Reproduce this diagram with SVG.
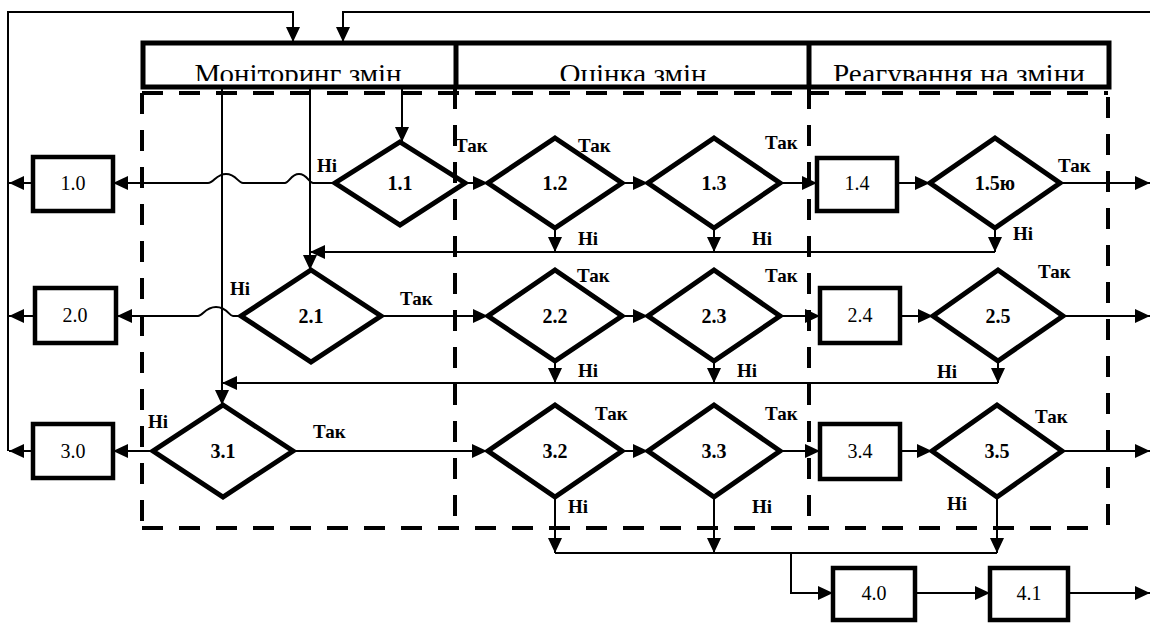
<svg xmlns="http://www.w3.org/2000/svg" width="1150" height="623" viewBox="0 0 1150 623">
<style>
.box{fill:#fff;stroke:#000;stroke-width:4.5}
.dia{fill:#fff;stroke:#000;stroke-width:5;stroke-linejoin:miter}
.ln{fill:none;stroke:#000;stroke-width:2}
.ar{marker-end:url(#ah)}
.dash{fill:none;stroke:#000;stroke-width:4;stroke-dasharray:21 16}
.hdr{fill:#fff;stroke:#000;stroke-width:5}
.ht{font-family:"Liberation Serif",serif;font-size:27px;fill:#000;text-anchor:middle}
.bl{font-family:"Liberation Serif",serif;font-size:20px;fill:#000;text-anchor:middle}
.dl{font-family:"Liberation Serif",serif;font-size:20px;font-weight:bold;fill:#000;text-anchor:middle}
.lb{font-family:"Liberation Serif",serif;font-size:19px;font-weight:bold;fill:#000}
</style>
<defs>
<marker id="ah" markerUnits="userSpaceOnUse" markerWidth="16" markerHeight="14" refX="15" refY="7" orient="auto">
<path d="M0,0 L15,7 L0,14 z" fill="#000"/>
</marker>
<clipPath id="hc"><rect x="140" y="44" width="975" height="37"/></clipPath>
</defs>
<rect width="1150" height="623" fill="#fff"/>

<g id="header">
<rect class="hdr" x="143" y="43" width="966" height="44"/>
<line x1="456" y1="43" x2="456" y2="87" stroke="#000" stroke-width="5"/>
<line x1="809" y1="43" x2="809" y2="87" stroke="#000" stroke-width="5"/>
<g clip-path="url(#hc)">
<text class="ht" x="298" y="83" textLength="207" lengthAdjust="spacingAndGlyphs">Моніторинг змін</text>
<text class="ht" x="633" y="83" textLength="147" lengthAdjust="spacingAndGlyphs">Оцінка змін</text>
<text class="ht" x="959" y="83" textLength="252" lengthAdjust="spacingAndGlyphs">Реагування на зміни</text>
</g>
</g>

<g id="connectors">
<path class="ln ar" d="M8,451 V12 H293 V42"/>
<path class="ln ar" d="M1150,12 H343 V42"/>
<path class="ln ar" d="M33,183 H9"/>
<path class="ln ar" d="M35,316 H9"/>
<path class="ln ar" d="M33,451 H9"/>
<!-- row 1 -->
<path class="ln ar" d="M335,183 H313 C309,183 307,174 299,174 C291,174 289,183 285,183 H243 C238,183 236,174 226,174 C216,174 214,183 208,183 H113"/>
<path class="ln ar" d="M465,183 H488"/>
<path class="ln ar" d="M622,183 H648"/>
<path class="ln ar" d="M780,183 H817"/>
<path class="ln ar" d="M897,183 H930"/>
<path class="ln ar" d="M1060,183 H1150"/>
<path class="ln ar" d="M555,228 V252"/>
<path class="ln ar" d="M714,228 V252"/>
<path class="ln ar" d="M995,228 V252"/>
<path class="ln ar" d="M995,252 H310"/>
<path class="ln ar" d="M402,88 V142"/>
<path class="ln ar" d="M310,88 V270"/>
<path class="ln ar" d="M222,88 V405"/>
<!-- row 2 -->
<path class="ln ar" d="M243,316 H233 C229,316 227,307 216,307 C205,307 203,316 198,316 H117"/>
<path class="ln ar" d="M383,316 H488"/>
<path class="ln ar" d="M622,316 H648"/>
<path class="ln ar" d="M780,316 H820"/>
<path class="ln ar" d="M900,316 H933"/>
<path class="ln ar" d="M1063,316 H1150"/>
<path class="ln ar" d="M555,361 V383"/>
<path class="ln ar" d="M714,361 V383"/>
<path class="ln ar" d="M998,361 V383"/>
<path class="ln ar" d="M998,383 H222"/>
<!-- row 3 -->
<path class="ln ar" d="M153,451 H113"/>
<path class="ln ar" d="M293,451 H487"/>
<path class="ln ar" d="M622,451 H648"/>
<path class="ln ar" d="M780,451 H820"/>
<path class="ln ar" d="M900,451 H932"/>
<path class="ln ar" d="M1062,451 H1150"/>
<path class="ln ar" d="M555,497 V553"/>
<path class="ln ar" d="M714,497 V553"/>
<path class="ln ar" d="M997,497 V553"/>
<path class="ln" d="M555,553 H997"/>
<path class="ln ar" d="M791,553 V593 H833"/>
<path class="ln ar" d="M915,593 H990"/>
<path class="ln ar" d="M1068,593 H1150"/>
</g>

<g id="n1.0"><rect class="box" x="33" y="157" width="80" height="54"/><text class="bl" x="73" y="190">1.0</text></g>
<g id="n2.0"><rect class="box" x="35" y="288" width="81" height="55"/><text class="bl" x="75" y="322">2.0</text></g>
<g id="n3.0"><rect class="box" x="33" y="424" width="80" height="54"/><text class="bl" x="73" y="458">3.0</text></g>
<g id="n1.4"><rect class="box" x="817" y="158" width="80" height="53"/><text class="bl" x="857" y="190">1.4</text></g>
<g id="n2.4"><rect class="box" x="820" y="288" width="80" height="55"/><text class="bl" x="860" y="322">2.4</text></g>
<g id="n3.4"><rect class="box" x="820" y="424" width="80" height="55"/><text class="bl" x="860" y="458">3.4</text></g>
<g id="n4.0"><rect class="box" x="833" y="568" width="82" height="52"/><text class="bl" x="874" y="600">4.0</text></g>
<g id="n4.1"><rect class="box" x="990" y="568" width="78" height="52"/><text class="bl" x="1029" y="600">4.1</text></g>

<g id="n1.1"><polygon class="dia" points="400,142 465,183 400,225 335,183"/><text class="dl" x="400" y="190">1.1</text></g>
<g id="n1.2"><polygon class="dia" points="555,138 622,183 555,228 488,183"/><text class="dl" x="555" y="190">1.2</text></g>
<g id="n1.3"><polygon class="dia" points="714,138 780,183 714,228 648,183"/><text class="dl" x="714" y="190">1.3</text></g>
<g id="n1.5"><polygon class="dia" points="995,138 1060,183 995,228 930,183"/><text class="dl" x="995" y="190">1.5ю</text></g>
<g id="n2.1"><polygon class="dia" points="311,270 381,316 311,362 241,316"/><text class="dl" x="311" y="323">2.1</text></g>
<g id="n2.2"><polygon class="dia" points="555,270 622,316 555,361 488,316"/><text class="dl" x="555" y="323">2.2</text></g>
<g id="n2.3"><polygon class="dia" points="714,270 780,316 714,361 648,316"/><text class="dl" x="714" y="323">2.3</text></g>
<g id="n2.5"><polygon class="dia" points="998,270 1063,316 998,361 933,316"/><text class="dl" x="998" y="323">2.5</text></g>
<g id="n3.1"><polygon class="dia" points="223,405 293,451 223,497 153,451"/><text class="dl" x="223" y="458">3.1</text></g>
<g id="n3.2"><polygon class="dia" points="555,405 622,451 555,497 488,451"/><text class="dl" x="555" y="458">3.2</text></g>
<g id="n3.3"><polygon class="dia" points="714,405 780,451 714,497 648,451"/><text class="dl" x="714" y="458">3.3</text></g>
<g id="n3.5"><polygon class="dia" points="997,405 1062,451 997,497 932,451"/><text class="dl" x="997" y="458">3.5</text></g>

<g id="labels">
<text class="lb" x="317" y="172">Ні</text>
<text class="lb" x="578" y="245">Ні</text>
<text class="lb" x="752" y="245">Ні</text>
<text class="lb" x="1013" y="240">Ні</text>
<text class="lb" x="230" y="295">Ні</text>
<text class="lb" x="578" y="377">Ні</text>
<text class="lb" x="737" y="377">Ні</text>
<text class="lb" x="937" y="378">Ні</text>
<text class="lb" x="148" y="428">Ні</text>
<text class="lb" x="568" y="513">Ні</text>
<text class="lb" x="752" y="513">Ні</text>
<text class="lb" x="947" y="510">Ні</text>
<text class="lb" x="455" y="152">Так</text>
<text class="lb" x="578" y="152">Так</text>
<text class="lb" x="765" y="149">Так</text>
<text class="lb" x="1058" y="172">Так</text>
<text class="lb" x="400" y="305">Так</text>
<text class="lb" x="577" y="282">Так</text>
<text class="lb" x="765" y="282">Так</text>
<text class="lb" x="1038" y="278">Так</text>
<text class="lb" x="313" y="438">Так</text>
<text class="lb" x="595" y="420">Так</text>
<text class="lb" x="765" y="420">Так</text>
<text class="lb" x="1035" y="423">Так</text>
</g>

<g id="lanes">
<path class="dash" d="M142,93 H1108"/>
<path class="dash" d="M142,93 V528"/>
<path class="dash" d="M1108,97 V528"/>
<path class="dash" d="M142,528 H1100"/>
<path class="dash" d="M455,88 V528"/>
<path class="dash" d="M809,88 V528"/>
</g>
</svg>
